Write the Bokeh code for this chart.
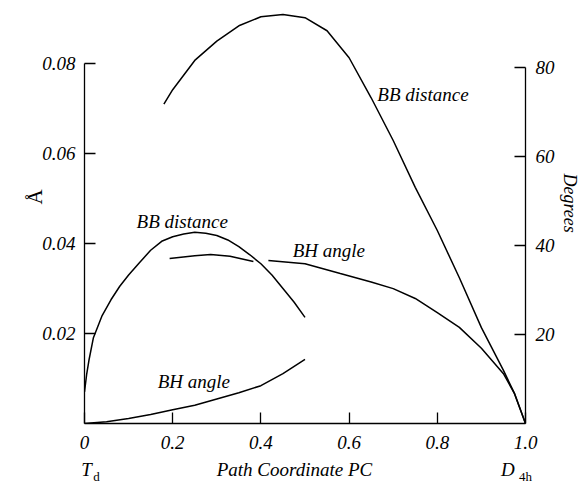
from bokeh.plotting import figure
from bokeh.models import Range1d, LinearAxis, FixedTicker, Label, Title
from bokeh.embed import file_html
from bokeh.resources import INLINE

# ---- data ----
# Lower "BB distance" curve (left axis, Å)
bb1_x = [0, 0.005, 0.01, 0.02, 0.04, 0.06, 0.08, 0.1, 0.125, 0.15, 0.175, 0.2, 0.225,
         0.25, 0.275, 0.3, 0.325, 0.35, 0.375, 0.4, 0.425, 0.45, 0.475, 0.5]
bb1_y = [0.007, 0.011, 0.014, 0.019, 0.024, 0.0275, 0.0305, 0.033, 0.0358, 0.0385, 0.0405,
         0.0415, 0.0421, 0.0425, 0.0423, 0.0418, 0.0408, 0.0393, 0.0375, 0.0355, 0.033,
         0.030, 0.027, 0.0236]

# Upper "BB distance" curve (left axis, Å)
bb2_x = [0.18, 0.2, 0.25, 0.3, 0.35, 0.4, 0.45, 0.5, 0.55, 0.6, 0.65, 0.7, 0.75, 0.8,
         0.85, 0.9, 0.95, 0.975, 1.0]
bb2_y = [0.071, 0.0742, 0.0807, 0.085, 0.0884, 0.0904, 0.0909, 0.0902, 0.0873, 0.0813,
         0.0724, 0.0629, 0.0525, 0.0429, 0.0324, 0.0213, 0.0118, 0.0067, 0.0]

# Lower "BH angle" curve (right axis, degrees)
bh1_x = [0, 0.05, 0.1, 0.15, 0.2, 0.25, 0.3, 0.35, 0.4, 0.45, 0.5]
bh1_y = [0, 0.4, 1.1, 2.0, 3.1, 4.1, 5.5, 6.9, 8.5, 11.2, 14.4]

# Upper "BH angle" curve (right axis, degrees); the gap is where it passes the BB curve
bh2_x = [0.193, 0.25, 0.286, 0.33, 0.383, float("nan"), 0.417, 0.5, 0.58, 0.65, 0.7,
         0.75, 0.8, 0.85, 0.9, 0.95, 0.975, 1.0]
bh2_y = [37.1, 37.7, 38.0, 37.6, 36.4, float("nan"), 36.6, 35.9, 33.7, 31.8, 30.3,
         28.1, 24.9, 21.6, 16.9, 11.2, 6.7, 0.0]

x_ticks = [0, 0.2, 0.4, 0.6, 0.8, 1.0]
left_ticks = [0.02, 0.04, 0.06, 0.08]
right_ticks = [20, 40, 60, 80]

# path-end labels under the x axis
end_pos = [0.0045, 0.476, 0.96]
end_text = ["T", "Path Coordinate PC", "D"]
sub_pos = [0.027, 1.0]
sub_text = ["d", "4h"]

FONT = "Liberation Serif"

p = figure(width=588, height=487, output_backend="svg", toolbar_location=None,
           x_range=Range1d(0, 1.0), y_range=Range1d(0, 0.0918),
           min_border_left=84, min_border_right=63, min_border_top=10,
           min_border_bottom=64)
p.extra_y_ranges = {"deg": Range1d(0, 92.8)}
p.outline_line_color = None
p.xgrid.visible = False
p.ygrid.visible = False
p.background_fill_color = "white"
p.border_fill_color = "white"

right = LinearAxis(y_range_name="deg")
p.add_layout(right, "right")

def style(ax, size="19px"):
    ax.axis_line_color = "black"
    ax.axis_line_width = 1.3
    ax.major_tick_line_color = "black"
    ax.major_tick_line_width = 1.3
    ax.major_tick_in = 11
    ax.major_tick_out = 0
    ax.minor_tick_in = 0
    ax.minor_tick_out = 0
    ax.major_label_text_font = FONT
    ax.major_label_text_font_style = "italic"
    ax.major_label_text_font_size = size
    ax.major_label_text_color = "black"

def bare(ax):
    ax.axis_line_color = None
    ax.major_tick_line_color = None
    ax.minor_tick_line_color = None
    ax.major_tick_in = 0
    ax.major_tick_out = 0
    ax.minor_tick_in = 0
    ax.minor_tick_out = 0

xa = p.xaxis[0]
style(xa)
xa.ticker = FixedTicker(ticks=x_ticks)
xa.bounds = (0, 1.0)
xa.major_label_overrides = {0: "0", 1: "1.0"}
xa.major_label_standoff = 12

# row under the tick labels: T, axis title, D
xb = LinearAxis(ticker=FixedTicker(ticks=end_pos))
style(xb)
bare(xb)
xb.major_label_overrides = dict(zip(end_pos, end_text))
xb.major_label_standoff = 7
p.add_layout(xb, "below")

# subscripts d and 4h
xc = LinearAxis(ticker=FixedTicker(ticks=sub_pos))
style(xc, size="13px")
bare(xc)
xc.major_label_text_font_style = "normal"
xc.major_label_overrides = dict(zip(sub_pos, sub_text))
xc.major_label_standoff = -14
p.add_layout(xc, "below")

ya = p.yaxis[0]
style(ya)
ya.ticker = FixedTicker(ticks=left_ticks)
ya.bounds = (0, 0.08)
ya.major_label_standoff = 9

style(right)
right.ticker = FixedTicker(ticks=right_ticks)
right.bounds = (0, 80)
right.major_label_standoff = 10

# axis titles
p.add_layout(Title(text="Å", align="left", offset=219, standoff=-14,
                   text_font=FONT, text_font_size="21px", text_font_style="normal",
                   text_color="black"), "left")
p.add_layout(Title(text="Degrees", align="left", offset=163, standoff=4,
                   text_font=FONT, text_font_size="18px", text_font_style="italic",
                   text_color="black"), "right")

lw = 1.5
p.line(bb1_x, bb1_y, line_color="black", line_width=lw)
p.line(bb2_x, bb2_y, line_color="black", line_width=lw)
p.line(bh1_x, bh1_y, line_color="black", line_width=lw, y_range_name="deg")
p.line(bh2_x, bh2_y, line_color="black", line_width=lw, y_range_name="deg")

def lab(x, y, text, size="19px"):
    p.add_layout(Label(x=x, y=y, text=text, text_font=FONT, text_font_style="italic",
                       text_font_size=size, text_align="left", text_baseline="middle",
                       text_color="black"))

# curve labels
lab(0.664, 0.0731, "BB distance")
lab(0.118, 0.0449, "BB distance")
lab(0.472, 0.0385, "BH angle")
lab(0.166, 0.0093, "BH angle")

open("out.html", "w").write(file_html(p, INLINE))
